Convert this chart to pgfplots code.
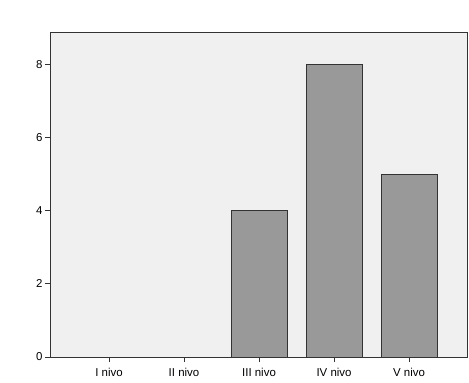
\documentclass[border=0pt]{standalone}
\usepackage{pgfplots}
\pgfplotsset{compat=1.18}
\usepackage{fontspec}
\setmainfont{Liberation Sans}
\definecolor{bgc}{HTML}{F0F0F0}
\definecolor{barc}{HTML}{999999}
\definecolor{edgec}{HTML}{333333}
\begin{document}
\begin{tikzpicture}
\path[use as bounding box] (0,0) rectangle (469bp,383bp);
\begin{axis}[
  at={(50bp,26bp)}, anchor=south west,
  scale only axis, width=417bp, height=325bp,
  xmin=-0.787, xmax=4.773, ymin=0, ymax=8.9,
  xtick={0,1,2,3,4},
  xticklabels={I nivo,II nivo,III nivo,IV nivo,V nivo},
  ytick={0,2,4,6,8},
  tick align=outside, tick pos=left,
  major tick length=5bp,
  tick style={edgec, line width=1pt},
  axis background/.style={fill=bgc},
  axis line style={edgec, line width=0.9pt},
  ticklabel style={font=\fontsize{11.5}{13}\selectfont, text=black},
  /pgf/number format/assume math mode=true,
  xticklabel style={yshift=-3bp},
  yticklabel style={xshift=1bp},
]
\addplot[ybar, bar width=56bp, fill=barc, draw=edgec, line width=1pt]
  coordinates {(0,0) (1,0) (2,4) (3,8) (4,5)};
\end{axis}
\end{tikzpicture}
\end{document}
